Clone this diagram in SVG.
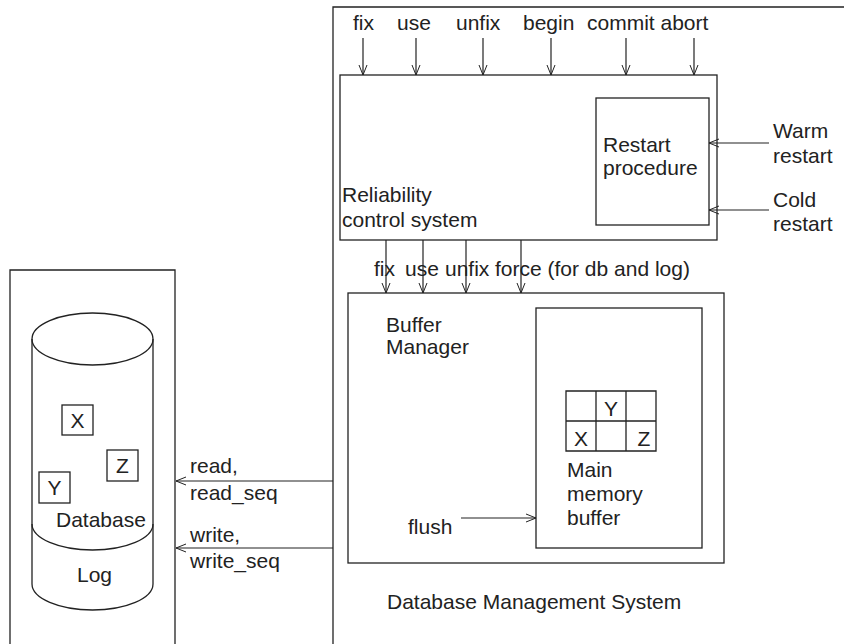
<svg xmlns="http://www.w3.org/2000/svg" width="844" height="644" viewBox="0 0 844 644">
<defs>
<marker id="ah" markerWidth="12" markerHeight="10" refX="11" refY="5" orient="auto" markerUnits="userSpaceOnUse">
<path d="M1,1 L11,5 L1,9" fill="none" stroke="#222" stroke-width="1"/>
</marker>
</defs>
<style>
.b{fill:none;stroke:#222;stroke-width:1.3}
.c{fill:none;stroke:#222;stroke-width:1.2;marker-end:url(#ah)}
text{font-family:"Liberation Sans",Arial,sans-serif;font-size:21px;fill:#222}
</style>
<rect width="844" height="644" fill="#fff"/>
<g id="dbms">
<path class="b" d="M844 7 H333 V644"/>
<text x="387" y="609">Database Management System</text>
</g>
<g id="reliability">
<rect class="b" x="340" y="75" width="377" height="165"/>
<text x="342" y="202">Reliability</text>
<text x="342" y="227">control system</text>
</g>
<g id="restart">
<rect class="b" x="596" y="98" width="113" height="127"/>
<text x="603" y="152">Restart</text>
<text x="603" y="175">procedure</text>
</g>
<g id="top-labels">
<text x="353" y="30">fix</text>
<text x="397" y="30">use</text>
<text x="456" y="30">unfix</text>
<text x="523" y="30">begin</text>
<text x="587" y="30">commit abort</text>
<text x="773" y="138">Warm</text>
<text x="773" y="163">restart</text>
<text x="773" y="207">Cold</text>
<text x="773" y="231">restart</text>
</g>
<g id="buffer-manager">
<rect class="b" x="348" y="293" width="376" height="270"/>
<text x="386" y="332">Buffer</text>
<text x="386" y="354">Manager</text>
<text x="408" y="534">flush</text>
</g>
<g id="main-memory">
<rect class="b" x="536" y="308" width="166" height="240"/>
<path class="b" d="M566 391 H656 V451 H566 Z M566 421 H656 M596 391 V451 M626 391 V451"/>
<text x="611" y="416" text-anchor="middle">Y</text>
<text x="581" y="446" text-anchor="middle">X</text>
<text x="644" y="446" text-anchor="middle">Z</text>
<text x="567" y="477">Main</text>
<text x="567" y="501">memory</text>
<text x="567" y="525">buffer</text>
</g>
<g id="mid-labels">
<text x="374" y="276">fix</text>
<text x="405" y="276">use</text>
<text x="445" y="276">unfix</text>
<text x="495" y="276">force (for db and log)</text>
</g>
<g id="storage">
<path class="b" d="M10 644 V270 H175 V644"/>
<ellipse class="b" cx="92.5" cy="339" rx="60.5" ry="26"/>
<path class="b" d="M32 339 V584 A60.5 26 0 0 0 153 584 V339"/>
<path class="b" d="M32 524 A60.5 26 0 0 0 153 524"/>
<rect class="b" x="62" y="405" width="31" height="30"/>
<text x="77.5" y="428" text-anchor="middle">X</text>
<rect class="b" x="107" y="450" width="31" height="31"/>
<text x="122.5" y="473" text-anchor="middle">Z</text>
<rect class="b" x="39" y="472" width="31" height="31"/>
<text x="54.5" y="495" text-anchor="middle">Y</text>
<text x="56" y="527">Database</text>
<text x="77" y="582">Log</text>
<text x="190" y="473">read,</text>
<text x="190" y="500">read_seq</text>
<text x="190" y="542">write,</text>
<text x="190" y="568">write_seq</text>
</g>
<g id="connectors">
<path class="c" d="M363 38 V75"/>
<path class="c" d="M416 38 V75"/>
<path class="c" d="M483 38 V75"/>
<path class="c" d="M551 38 V75"/>
<path class="c" d="M626 38 V75"/>
<path class="c" d="M694 38 V75"/>
<path class="c" d="M769 143 H709"/>
<path class="c" d="M769 210 H709"/>
<path class="c" d="M386 240 V293"/>
<path class="c" d="M423 240 V293"/>
<path class="c" d="M466 240 V293"/>
<path class="c" d="M521 240 V293"/>
<path class="c" d="M461 518 H536"/>
<path class="c" d="M333 481 H176"/>
<path class="c" d="M333 548 H176"/>
</g>
</svg>
